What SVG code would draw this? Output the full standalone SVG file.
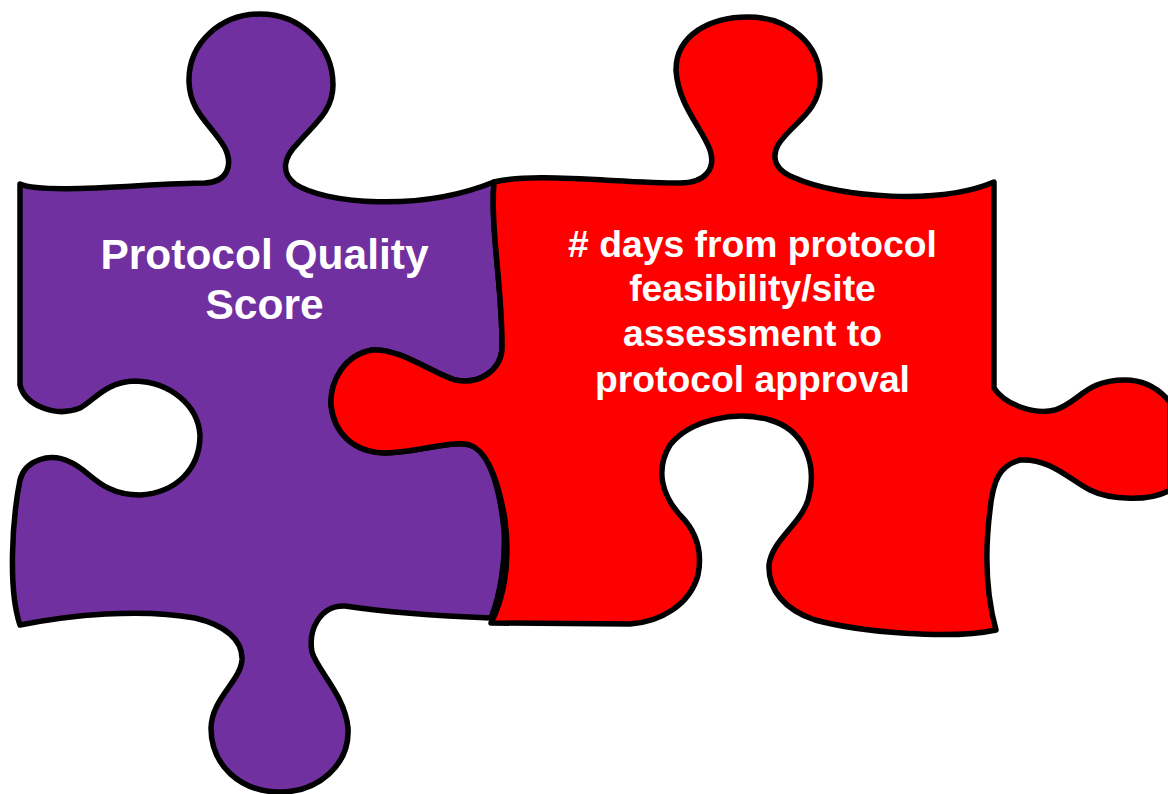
<svg xmlns="http://www.w3.org/2000/svg" width="1168" height="794" viewBox="0 0 1168 794">
<style>
.p{stroke:#000;stroke-width:5.5;stroke-linejoin:round}
text{font-family:"Liberation Sans",Arial,sans-serif;font-weight:bold;fill:#fff;text-anchor:middle}
</style>
<rect width="1168" height="794" fill="#fff"/>
<g id="piece-purple">
<path class="p" fill="#7030a0" d="M20 184C45 195 150 183 205 183C228 182 233 165 225 148C212 125 190 113 189 82C188 42 222 14 260 14C300 14 333 45 333 85C333 112 313 125 298 143C284 157 280 172 295 184C325 204 420 212 494 182C490 230 503 290 502 350C500 370 480 385 455 380C430 372 400 348 372 350C345 355 330 380 331 405C334 432 352 452 385 453C420 452 450 440 470 445C490 452 500 490 504 530C506 560 500 595 491 618C440 616 385 612 345 606C320 605 308 630 312 652C317 670 345 695 348 728C350 765 318 792 280 792C240 792 211 765 211 728C212 698 240 682 242 660C243 640 225 625 195 618C140 608 70 615 20 625C8 590 12 520 20 480C25 460 50 452 70 462C90 470 100 495 140 495C175 493 200 470 200 435C198 405 170 382 135 381C105 382 95 400 80 408C55 418 25 405 20 385Z"/>
<text x="264.500" y="269" font-size="42.500">Protocol Quality</text>
<text x="264.500" y="319" font-size="42.500">Score</text>
</g>
<g id="piece-red">
<path class="p" fill="#f00" d="M494 182C530 172 620 183 680 183C706 183 716 168 710 150C702 128 678 105 676 70C676 35 710 17 748 17C790 17 820 45 820 80C820 112 790 125 778 145C770 160 778 172 795 178C840 198 940 205 994 182L994 388C1005 405 1035 415 1055 410C1080 402 1085 380 1125 380C1145 380 1160 390 1170 402L1170 490C1150 502 1110 500 1090 490C1070 480 1050 458 1020 460C1000 465 993 480 990 510C985 550 985 590 996 630C950 640 860 632 815 620C785 610 768 590 769 565C772 540 800 525 808 500C818 465 805 430 770 420C735 410 690 420 670 445C655 470 662 495 680 515C695 530 703 550 698 575C690 605 660 622 630 624L491 623C505 595 510 560 505 520C500 490 490 452 470 445C450 440 420 452 385 453C352 452 334 432 331 405C330 380 345 355 372 350C400 348 430 372 455 380C480 385 500 370 502 350C503 290 490 230 494 182Z"/>
<text x="752.500" y="257" font-size="37.300">#  days from protocol</text>
<text x="752.500" y="301" font-size="37.300">feasibility/site</text>
<text x="752.500" y="346" font-size="37.300">assessment to</text>
<text x="752.500" y="392" font-size="37.300">protocol approval</text>
</g>
<g id="connectors"/>
</svg>
